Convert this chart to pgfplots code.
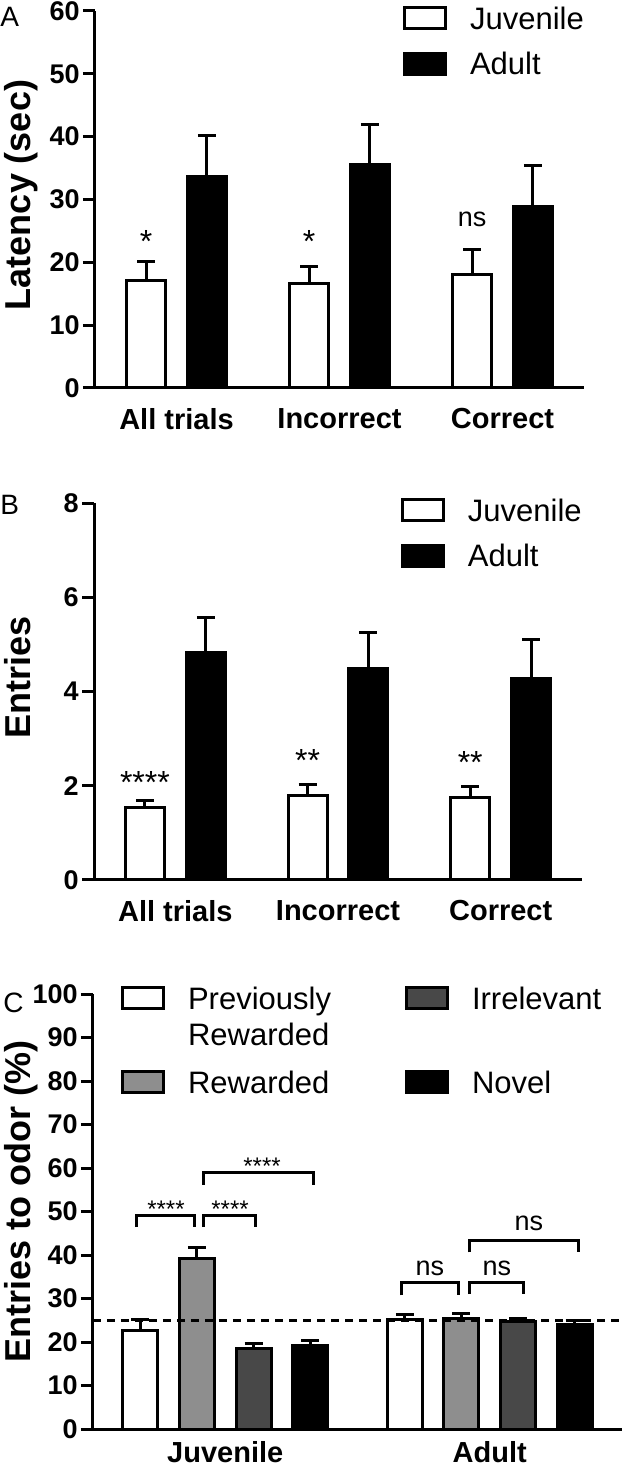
\documentclass[border=0pt]{standalone}
\usepackage{fontspec}
\setmainfont{Liberation Sans}
\usepackage{pgfplots}
\pgfplotsset{compat=1.18}

\definecolor{rewgray}{HTML}{8E8E8E}
\definecolor{irrgray}{HTML}{484848}

\newcommand\tickfont{\bfseries\fontsize{13.5}{16}\selectfont}
\newcommand\catfont{\bfseries\fontsize{14.5}{17}\selectfont}
\newcommand\labfont{\bfseries\fontsize{18}{21}\selectfont}
\newcommand\legfont{\fontsize{15.5}{18.3}\selectfont}
\newcommand\starfont{\fontsize{16}{19}\selectfont}
\newcommand\cstarfont{\fontsize{12}{14}\selectfont}
\newcommand\nsfont{\fontsize{13.5}{16}\selectfont}
\newcommand\panelfont{\fontsize{14}{17}\selectfont}

\pgfplotsset{
  panel/.style={
    scale only axis,
    axis lines=left,
    axis line style={-, line width=1.5pt},
    tick align=outside,
    major tick length=6pt,
    ytick style={line width=1.5pt, black},
    xtick style={draw=none},
    ymin=0,
    /pgf/number format/assume math mode=true,
    yticklabel style={font=\tickfont, inner sep=0pt, anchor=east, xshift=-1.5pt},
    xticklabel style={font=\catfont, inner sep=0pt, anchor=north, yshift=-4pt},
    ylabel style={font=\labfont, inner sep=0pt, anchor=north},
    legend style={draw=none, fill=none, inner sep=0pt, outer sep=0pt, font=\legfont,
      nodes={inner sep=0pt, text depth={}}, cells={anchor=base west},
      column sep=11.5pt, anchor=north west},
    clip=false,
  },
  mybar/.style={ybar, bar shift=0pt, draw=black, line width=1.5pt, fill=#1,
    legend image code/.code={\draw[black, fill=#1, line width=1.5pt] (0.75pt,0.3pt) rectangle (21.25pt,10.8pt);},
    error bars/y dir=plus, error bars/y explicit,
    error bars/error bar style={line width=1.5pt, black},
    error bars/error mark options={rotate=90, black, line width=1.5pt, mark size=4.5pt}},
}

\begin{document}
\begin{tikzpicture}
\useasboundingbox (0,0) rectangle (312.5pt,734.5pt);

% A: latency
\begin{axis}[panel, at={(47.5pt,540.5pt)}, anchor=south west,
  width=244.5pt, height=188.5pt,
  xmin=-0.5, xmax=2.5, ymax=60, ytick={0,10,...,60},
  xtick={0,1,2}, xticklabels={All trials, Incorrect, Correct},
  ylabel={Latency (sec)},
  ylabel style={at={(axis description cs:-0.186,0.512)}},
  bar width=0.24,
  legend style={at={(axis description cs:0.630,1.013)}, row sep=10.75pt},
]
\addplot[mybar=white] coordinates {(-0.187,17.1) +- (0,3.0) (0.813,16.7) +- (0,2.6) (1.813,18.0) +- (0,4.0)};
\addlegendentry{Juvenile}
\addplot[mybar=black] coordinates {(0.187,33.7) +- (0,6.5) (1.187,35.5) +- (0,6.4) (2.187,28.9) +- (0,6.5)};
\addlegendentry{Adult}
\node[font=\starfont, anchor=base] at (axis cs:-0.187,21.5) {*};
\node[font=\starfont, anchor=base] at (axis cs:0.813,21.5) {*};
\node[font=\nsfont, anchor=base] at (axis cs:1.813,25.7) {ns};
\end{axis}

% B: entries
\begin{axis}[panel, at={(47pt,294.5pt)}, anchor=south west,
  width=244pt, height=188.5pt,
  xmin=-0.5, xmax=2.5, ymax=8, ytick={0,2,...,8},
  xtick={0,1,2}, xticklabels={All trials, Incorrect, Correct},
  ylabel={Entries},
  ylabel style={at={(axis description cs:-0.184,0.536)}},
  bar width=0.24,
  legend style={at={(axis description cs:0.629,1.013)}, row sep=10.75pt},
]
\addplot[mybar=white] coordinates {(-0.187,1.53) +- (0,0.16) (0.813,1.80) +- (0,0.22) (1.813,1.75) +- (0,0.23)};
\addlegendentry{Juvenile}
\addplot[mybar=black] coordinates {(0.187,4.82) +- (0,0.74) (1.187,4.49) +- (0,0.77) (2.187,4.27) +- (0,0.83)};
\addlegendentry{Adult}
\node[font=\starfont, anchor=base] at (axis cs:-0.187,1.83) {****};
\node[font=\starfont, anchor=base] at (axis cs:0.813,2.30) {**};
\node[font=\starfont, anchor=base] at (axis cs:1.813,2.25) {**};
\end{axis}

% C: entries to odor
\begin{axis}[panel, at={(46.5pt,20pt)}, anchor=south west,
  width=264.5pt, height=217.5pt,
  xmin=-0.5, xmax=1.5, ymax=100, ytick={0,10,...,100},
  xtick={0,1}, xticklabels={Juvenile, Adult},
  xticklabel style={yshift=4pt},
  ylabel={Entries to odor (\%)},
  ylabel style={at={(axis description cs:-0.168,0.523)}},
  bar width=0.132,
  legend columns=2,
  legend style={at={(axis description cs:0.053,1.024)}, row sep=6.65pt,
    /tikz/column 2/.style={column sep=37pt}},
  every axis plot/.append style={error bars/error mark options={mark size=5pt}},
]
\addplot[mybar=white] coordinates {(-0.321,22.6) +- (0,2.6) (0.679,25.1) +- (0,1.2)};
\addlegendentry{\begin{tabular}[t]{@{}l@{}}Previously\\Rewarded\end{tabular}}
\addplot[mybar=irrgray] coordinates {(0.107,18.6) +- (0,1.0) (1.107,24.6) +- (0,0.8)};
\addlegendentry{Irrelevant}
\addplot[mybar=rewgray] coordinates {(-0.107,39.2) +- (0,2.6) (0.893,25.5) +- (0,1.1)};
\addlegendentry{Rewarded}
\addplot[mybar=black] coordinates {(0.321,19.2) +- (0,1.1) (1.321,24.0) +- (0,1.0)};
\addlegendentry{Novel}
% chance level
\addplot[forget plot, black, line width=1.5pt, dash pattern=on 4pt off 3pt] coordinates {(-0.5,25) (1.5,25)};
% comparison brackets
\addplot[forget plot, black, line width=1.5pt] coordinates {(-0.337,46.4) (-0.337,49.1) (-0.118,49.1) (-0.118,46.4)};
\addplot[forget plot, black, line width=1.5pt] coordinates {(-0.084,46.4) (-0.084,49.1) (0.116,49.1) (0.116,46.4)};
\addplot[forget plot, black, line width=1.5pt] coordinates {(-0.084,56.2) (-0.084,58.9) (0.332,58.9) (0.332,56.2)};
\addplot[forget plot, black, line width=1.5pt] coordinates {(0.668,30.7) (0.668,33.6) (0.880,33.6) (0.880,30.7)};
\addplot[forget plot, black, line width=1.5pt] coordinates {(0.925,31.0) (0.925,33.6) (1.126,33.6) (1.126,31.0)};
\addplot[forget plot, black, line width=1.5pt] coordinates {(0.925,40.6) (0.925,43.3) (1.334,43.3) (1.334,40.6)};
\node[font=\cstarfont, anchor=base] at (axis cs:-0.224,48.6) {****};
\node[font=\cstarfont, anchor=base] at (axis cs:0.018,48.6) {****};
\node[font=\cstarfont, anchor=base] at (axis cs:0.139,58.5) {****};
\node[font=\nsfont, anchor=base] at (axis cs:0.774,35.4) {ns};
\node[font=\nsfont, anchor=base] at (axis cs:1.027,35.4) {ns};
\node[font=\nsfont, anchor=base] at (axis cs:1.148,45.7) {ns};
\end{axis}

\node[font=\panelfont, anchor=north west, inner sep=0pt] at (0pt,731pt) {A};
\node[font=\panelfont, anchor=north west, inner sep=0pt] at (0pt,487pt) {B};
\node[font=\panelfont, anchor=north west, inner sep=0pt] at (1.5pt,238pt) {C};
\end{tikzpicture}
\end{document}
